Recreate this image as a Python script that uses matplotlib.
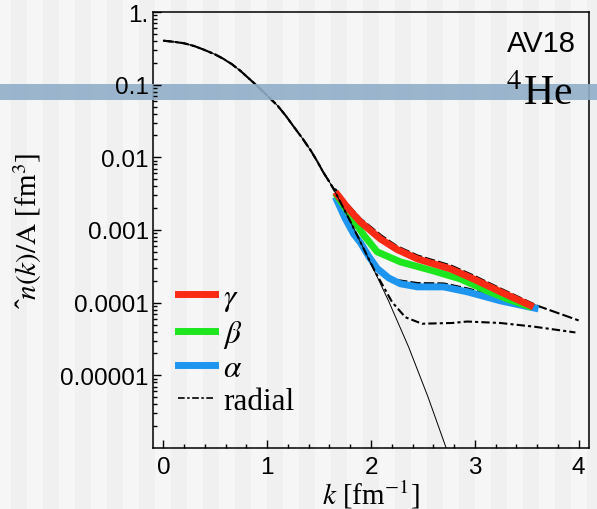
import numpy as np
import matplotlib
matplotlib.use("Agg")
import matplotlib.pyplot as plt
from matplotlib.patches import Rectangle
from matplotlib.lines import Line2D
from matplotlib.ticker import FixedLocator, MultipleLocator, LogLocator, NullFormatter

plt.rcParams['mathtext.fontset'] = 'stix'

# shared low-momentum part of the distribution
k_low = [0.0, 0.1, 0.2, 0.3, 0.39, 0.5, 0.58, 0.66, 0.74, 0.82, 0.9,
         1.0, 1.1, 1.18, 1.26, 1.34, 1.42, 1.48, 1.54, 1.6, 1.64]
n_low = [0.403, 0.389, 0.371, 0.339, 0.303, 0.260, 0.226, 0.191, 0.156, 0.123, 0.097,
         0.0708, 0.0514, 0.0372, 0.0259, 0.0182, 0.0124, 0.00891, 0.00624, 0.00457, 0.00367]

# thin solid tail (steep fall-off)
k_thin = [1.8, 1.978, 2.17, 2.363, 2.55, 2.724, 2.8]
n_thin = [1.32e-3, 4.0e-4, 1.05e-4, 2.44e-5, 5.0e-6, 1.0e-6, 5.0e-7]

# radial (dash-dot) tail
k_rad = [1.8, 1.978, 2.042, 2.203, 2.331, 2.492, 2.65, 2.781, 2.926, 3.247, 3.568, 3.969]
n_rad = [1.32e-3, 4.0e-4, 2.63e-4, 1.02e-4, 6.3e-5, 5.13e-5, 5.2e-5, 5.25e-5, 5.5e-5,
         5.25e-5, 4.68e-5, 3.89e-5]

# full (dashed) tail, running along the top edge of gamma
k_full = [1.66, 1.77, 1.9, 2.1, 2.25, 2.45, 2.77, 2.99, 3.25, 3.6, 3.8, 4.0]
n_full = [3.6e-3, 2.3e-3, 1.43e-3, 8.4e-4, 6.0e-4, 4.45e-4, 3.25e-4, 2.36e-4, 1.56e-4,
          9.1e-5, 7.2e-5, 5.7e-5]

# dashed reference along the top edge of alpha
k_adash = [2.25, 2.45, 2.7, 2.93, 3.25, 3.6]
n_adash = [2.05e-4, 1.86e-4, 1.84e-4, 1.57e-4, 1.18e-4, 9.0e-5]

k_gamma = [1.657, 1.77, 1.898, 2.09, 2.25, 2.447, 2.765, 2.987, 3.247, 3.565]
n_gamma = [3.34e-3, 2.06e-3, 1.29e-3, 7.55e-4, 5.4e-4, 4.0e-4, 2.92e-4, 2.12e-4, 1.41e-4, 8.75e-5]

k_beta = [1.657, 1.8, 1.93, 2.06, 2.283, 2.6, 2.861, 3.12, 3.31, 3.55]
n_beta = [3.2e-3, 1.6e-3, 8.5e-4, 5.0e-4, 3.64e-4, 2.74e-4, 2.12e-4, 1.45e-4, 1.13e-4, 8.6e-5]

k_alpha = [1.657, 1.75, 1.833, 1.898, 1.98, 2.06, 2.17, 2.283, 2.447, 2.697, 2.928, 3.247, 3.613]
n_alpha = [2.85e-3, 1.45e-3, 8.8e-4, 6.7e-4, 4.3e-4, 2.95e-4, 2.19e-4, 1.82e-4, 1.65e-4,
           1.65e-4, 1.41e-4, 1.06e-4, 8.2e-5]

ytick_vals = [1e-5, 1e-4, 1e-3, 1e-2, 1e-1, 1.0]
ytick_labels = ['0.00001', '0.0001', '0.001', '0.01', '0.1', '1.']
xtick_vals = [0, 1, 2, 3, 4]

red = '#fb2a14'
green = '#1ee61e'
blue = '#1e96f0'

W, H = 597, 510
fig = plt.figure(figsize=(W / 100, H / 100), dpi=100, facecolor='#f6f6f6')

# faint vertical stripes in the background
for x0 in range(11, W, 32):
    fig.add_artist(Rectangle((x0 / W, 0), 16 / W, 1, transform=fig.transFigure,
                             facecolor='#f0f0f0', edgecolor='none', zorder=-5))

ax = fig.add_axes([153 / W, 61 / H, 436 / W, 436 / H])
ax.set_facecolor('none')

# dashed references sit under the colored curves
ax.plot(k_low + k_full, n_low + n_full, color='black', lw=1.5, dashes=(5, 1.5), zorder=1.5)
ax.plot(k_adash, n_adash, color='black', lw=1.5, dashes=(5, 1.5), zorder=1.5)

# colored curves
ax.plot(k_alpha, n_alpha, color=blue, lw=5, solid_capstyle='butt', zorder=2)
ax.plot(k_beta, n_beta, color=green, lw=5, solid_capstyle='butt', zorder=3)
ax.plot(k_gamma, n_gamma, color=red, lw=5, solid_capstyle='butt', zorder=4)

# thin solid and radial curves on top
ax.plot(k_low + k_thin, n_low + n_thin, color='black', lw=0.7, zorder=5)
ax.plot(k_low + k_rad, n_low + n_rad, color='black', lw=1.5,
        dashes=(4, 1.5, 1.5, 1.5), zorder=5)

ax.set_yscale('log')
ax.set_xlim(-0.1, 4.1)
ax.set_ylim(1e-6, 1.0)

ax.yaxis.set_major_locator(FixedLocator(ytick_vals))
ax.set_yticklabels(ytick_labels)
ax.yaxis.set_minor_locator(LogLocator(base=10, subs=np.arange(2, 10)))
ax.yaxis.set_minor_formatter(NullFormatter())
ax.set_xticks(xtick_vals)
ax.set_xticklabels([str(v) for v in xtick_vals])
ax.xaxis.set_minor_locator(MultipleLocator(0.2))

for s in ax.spines.values():
    s.set_linewidth(1.1)
ax.tick_params(which='both', direction='in', top=False, right=False, width=1.0)
ax.tick_params(which='major', length=5.5)
ax.tick_params(which='minor', length=3)
ax.tick_params(axis='y', pad=3)
ax.tick_params(axis='x', pad=6)
for lab in ax.get_xticklabels() + ax.get_yticklabels():
    lab.set_fontfamily('Liberation Sans')
    lab.set_fontsize(17.5)

serif = ['Liberation Serif', 'DejaVu Serif']
ax.set_xlabel(r'$k$ [fm$^{-1}$]', fontsize=21, family=serif)
ax.xaxis.set_label_coords(0.5, -0.069)
ax.set_ylabel('ˆ' + r'$n(k)/\mathrm{A}$ [fm$^3$]', fontsize=21, family=serif)
ax.yaxis.set_label_coords(-0.25, 0.5)
ax.xaxis.set_zorder(20)
ax.yaxis.set_zorder(20)

ax.text(0.970, 0.929, 'AV18', transform=ax.transAxes, ha='right', va='center',
        fontsize=21, family='Liberation Sans', zorder=21)
ax.text(0.962, 0.789, r'$^4$He', transform=ax.transAxes, ha='right', va='baseline',
        fontsize=30, family=serif, zorder=21)

# legend
h_gamma = (Line2D([], [], color='black', lw=1.2, dashes=(4, 1.5)), Line2D([], [], color=red, lw=5))
h_beta = Line2D([], [], color=green, lw=5)
h_alpha = Line2D([], [], color=blue, lw=5)
h_rad = Line2D([], [], color='black', lw=1.2, dashes=(4, 1.5, 1.5, 1.5))
leg = ax.legend([h_gamma, h_beta, h_alpha, h_rad],
                [r'$\gamma$', r'$\beta$', r'$\alpha$', 'radial'],
                loc='upper left', bbox_to_anchor=(0.058, 0.378), frameon=False,
                prop={'family': serif, 'size': 22.5}, handlelength=1.18,
                handletextpad=0.26, labelspacing=0.14, borderpad=0, borderaxespad=0)
leg.set_zorder(22)

# horizontal blue band across the picture: over the curves, under ticks and texts
ax.add_patch(Rectangle((-153 / 436, (449 - 101) / 436), W / 436, 16 / 436,
                       transform=ax.transAxes, clip_on=False,
                       facecolor='#90aec8', edgecolor='none', alpha=0.9, zorder=15))

fig.savefig('out.png', dpi=100, facecolor=fig.get_facecolor())
